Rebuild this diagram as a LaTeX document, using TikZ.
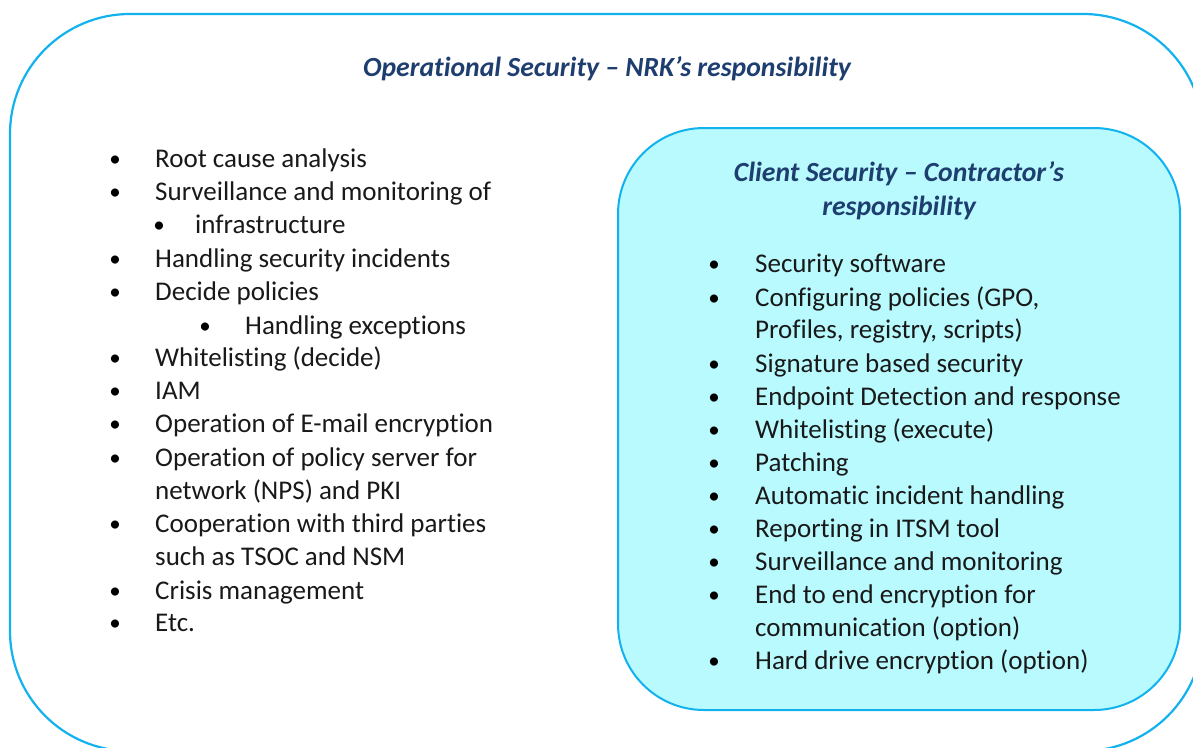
\documentclass[tikz,border=0pt]{standalone}
\usepackage{fontspec}
\setmainfont{Carlito}[Ligatures=NoCommon]
\definecolor{boxline}{HTML}{12B2EE}
\definecolor{boxfill}{HTML}{B8FAFE}
\definecolor{titleblue}{HTML}{1F3E70}
\tikzset{
  item/.style={anchor=mid west, inner sep=0pt, yshift=-7pt, font=\fontsize{27}{32}\selectfont, text=black!90},
  bul/.style={anchor=mid, inner sep=0pt, yshift=-6pt, font=\fontsize{23}{28}\selectfont},
  ttl/.style={anchor=mid, inner sep=0pt, yshift=-7pt, font=\fontsize{27.7}{32}\selectfont\bfseries\itshape, text=titleblue},
  frame/.style={draw=boxline, line width=2.2pt, rounded corners=120pt},
  inframe/.style={draw=boxline, fill=boxfill, line width=2pt, rounded corners=86pt}
}
\begin{document}
\begin{tikzpicture}[x=1pt,y=-1pt]
\useasboundingbox (0,0) rectangle (1193,747);
\clip (0,0) rectangle (1193,747);
\fill[white] (0,0) rectangle (1193,747);
\draw[frame] (10,14) rectangle (1203,751);
\draw[inframe] (618,128) rectangle (1180,710);
\node[ttl] (t1) at (607,67) {Operational Security – NRK’s responsibility};
\node[ttl] (t2a) at (899,172) {Client Security – Contractor’s};
\node[ttl] (t2b) at (899,206) {responsibility};
% left list
\foreach \y/\t [count=\i] in {158/Root cause analysis, 191/Surveillance and monitoring of, 258/Handling security incidents, 291/Decide policies, 357/Whitelisting (decide), 390/IAM, 423/Operation of E-mail encryption, 457/Operation of policy server for, 523/Cooperation with third parties, 590/Crisis management, 622/Etc.}{
  \node[bul] (lb\i) at (115,\y) {•};
  \node[item] (l\i) at (155,\y) {\t};
}
\node[item] (l8b) at (155,490) {network (NPS) and PKI};
\node[item] (l9b) at (155,556) {such as TSOC and NSM};
\node[bul] (sb1) at (159,224) {•};
\node[item] (s1) at (195,224) {infrastructure};
\node[bul] (sb2) at (205,325) {•};
\node[item] (s2) at (245,325) {Handling exceptions};
% right list
\foreach \y/\t [count=\i] in {263/Security software, 297/{Configuring policies (GPO,}, 363/Signature based security, 396/Endpoint Detection and response, 429/Whitelisting (execute), 462/Patching, 495/Automatic incident handling, 528/Reporting in ITSM tool, 561/Surveillance and monitoring, 594/End to end encryption for, 660/Hard drive encryption (option)}{
  \node[bul] (rb\i) at (714,\y) {•};
  \node[item] (r\i) at (755,\y) {\t};
}
\node[item] (r2b) at (755,329) {Profiles, registry, scripts)};
\node[item] (r10b) at (755,627) {communication (option)};
\end{tikzpicture}
\end{document}
